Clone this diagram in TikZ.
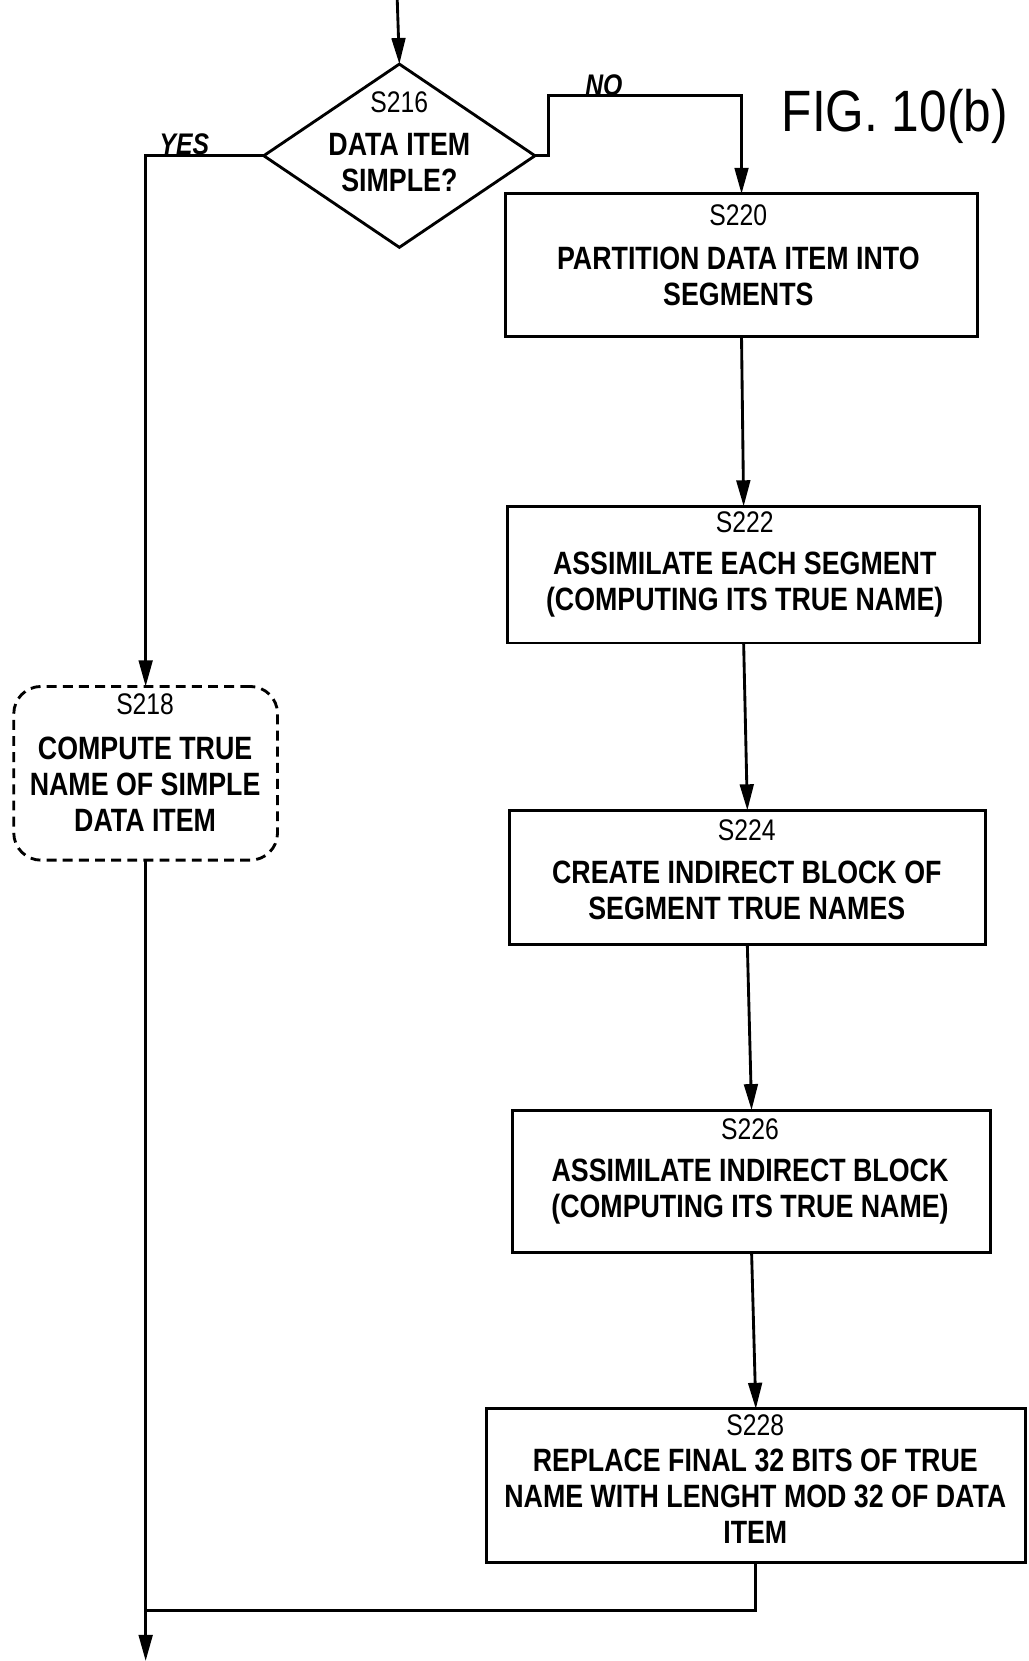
\documentclass[tikz,border=0pt]{standalone}
\usepackage{fontspec}
\setmainfont{Liberation Sans}[FakeStretch=0.83]
\newfontfamily\figfont{Liberation Sans}[FakeStretch=0.85]
\usetikzlibrary{arrows.meta,shapes.geometric}
\begin{document}
\begin{tikzpicture}[x=0.03cm,y=-0.03cm,
  every node/.style={inner sep=0pt,outer sep=0pt},
  box/.style={draw,line width=2.3pt,rectangle},
  dbox/.style={draw,line width=2.3pt,rectangle,rounded corners=22pt,dash pattern=on 8pt off 5pt},
  txt/.style={align=center,font=\fontsize{26}{29}\selectfont\bfseries},
  lbl/.style={font=\fontsize{24}{27}\selectfont\bfseries\itshape,anchor=base},
  arr/.style={line width=2.3pt,-{Triangle[width=11pt,length=21pt]}},
  ln/.style={line width=2.3pt}]
\newcommand{\stp}[1]{{\fontsize{24}{27}\selectfont\mdseries #1}}
\useasboundingbox (0,0) rectangle (971,1568);
% nodes
\node[draw,line width=2.3pt,diamond,minimum width=7.68cm,minimum height=5.19cm] (d) at (377,147) {};
\node[txt] (dt) at (377,134) {\stp{S216}\\[6pt]DATA ITEM\\SIMPLE?};
\node[box,minimum width=13.38cm,minimum height=4.05cm] (s220) at (700,250.5) {};
\node[txt] (s220t) at (697,241) {\stp{S220}\\[6pt]PARTITION DATA ITEM INTO\\SEGMENTS};
\node[box,minimum width=13.38cm,minimum height=3.87cm] (s222) at (702,542.5) {};
\node[txt] (s222t) at (703,533) {\stp{S222}\\[5pt]ASSIMILATE EACH SEGMENT\\(COMPUTING ITS TRUE NAME)};
\node[box,minimum width=13.47cm,minimum height=3.81cm] (s224) at (705.5,828.5) {};
\node[txt] (s224t) at (705,821) {\stp{S224}\\[5pt]CREATE INDIRECT BLOCK OF\\SEGMENT TRUE NAMES};
\node[box,minimum width=13.53cm,minimum height=4.02cm] (s226) at (709.5,1115) {};
\node[txt] (s226t) at (708,1105.5) {\stp{S226}\\[5pt]ASSIMILATE INDIRECT BLOCK\\(COMPUTING ITS TRUE NAME)};
\node[box,minimum width=15.27cm,minimum height=4.35cm] (s228) at (713.5,1402.5) {};
\node[txt] (s228t) at (713,1396) {\stp{S228}\\REPLACE FINAL 32 BITS OF TRUE\\NAME WITH LENGHT MOD 32 OF DATA\\ITEM};
\node[dbox,minimum width=7.47cm,minimum height=4.92cm] (s218) at (137.5,730) {};
\node[txt] (s218t) at (137,720) {\stp{S218}\\[7pt]COMPUTE TRUE\\NAME OF SIMPLE\\DATA ITEM};
\node[font=\figfont\fontsize{47}{50}\selectfont,anchor=west] (fig) at (738,110) {FIG. 10(b)};
\node[lbl] (yes) at (174,146) {YES};
\node[lbl] (no) at (570,90) {NO};
% coordinates
\coordinate (top) at (375,0);
\coordinate (nob) at (518,90);
\coordinate (j) at (140,1520);
\coordinate (bot) at (138,1568);
% connectors
\draw[arr] (top) -- (d.north);
\draw[arr] (d.west) -| (s218.north);
\draw[arr] (d.east) -| (nob) -| (s220.north);
\draw[arr] (s220.south) -- (s222.north);
\draw[arr] (s222.south) -- (s224.north);
\draw[arr] (s224.south) -- (s226.north);
\draw[arr] (s226.south) -- (s228.north);
\draw[arr] (s218.south) -- (s218.south |- bot);
\draw[ln] (s228.south) |- (s218.south |- j);
\end{tikzpicture}
\end{document}
